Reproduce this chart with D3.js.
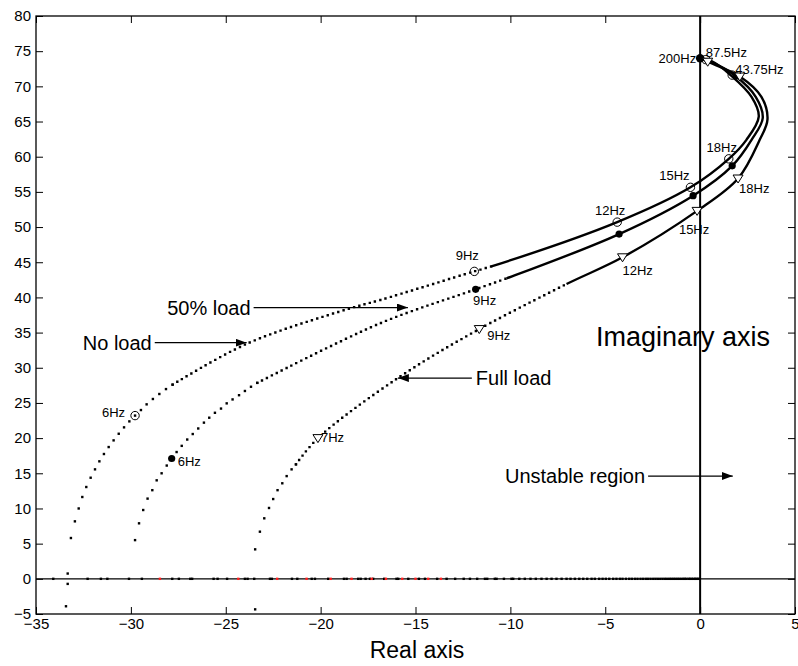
<!DOCTYPE html>
<html>
<head>
<meta charset="utf-8">
<script src="https://cdn.jsdelivr.net/npm/d3@7"></script>
<style>
body { margin:0; background:#fff; }
text { font-family: "Liberation Sans", Arial, Helvetica, sans-serif; fill:#000; }
</style>
</head>
<body>
<div id="mainchart"></div>
<script>
// Datos (eje real / eje imaginario)
// ===================

var xTicks = [-35, -30, -25, -20, -15, -10, -5, 0, 5];
var yTicks = [-5, 0, 5, 10, 15, 20, 25, 30, 35, 40, 45, 50, 55, 60, 65, 70, 75, 80];

// No load: puntos sueltos (baja frecuencia), tramo punteado, tramo continuo
var noLoadDots = [[-33.16,5.8],[-32.95,8.17],[-32.75,10.0],[-32.56,11.63],[-32.35,13.05],[-32.12,14.37],
	[-31.89,15.56],[-31.66,16.7],[-31.42,17.74],[-31.17,18.73],[-30.91,19.68],[-30.64,20.62],[-30.36,21.53],
	[-30.08,22.38],[-29.78,23.2],[-29.47,23.99],[-29.17,24.8],[-28.84,25.56],[-28.5,26.27],[-28.15,26.97],[-27.8,27.6]];
var noLoadDotted = [[-27.8,27.6],[-23.9,33.4],[-18.63,38.3],[-16.9,39.6],[-11.9,43.7],[-11.0,44.4]];
var noLoadSolid = [[-11.9,43.7],[-11.0,44.4],[-4.37,50.7],[-0.51,55.65],[1.51,59.7],[2.44,62.4],[3.09,65.7],
	[2.71,68.5],[1.65,71.5],[0.6,73.6],[0,74.0]];

// 50% load
var halfLoadDots = [[-29.78,5.5],[-29.57,7.89],[-29.35,9.78],[-29.12,11.4],[-28.87,12.6],[-28.64,14.0],[-28.38,15.0],
	[-28.11,16.1],[-27.85,17.1],[-27.59,18.02],[-27.32,18.9],[-27.03,19.8],[-26.74,20.58],[-26.45,21.37],[-26.15,22.2],
	[-25.87,22.9],[-25.57,23.6],[-25.25,24.2],[-24.95,24.94],[-24.64,25.5],[-24.3,26.1],[-23.99,26.7],[-23.67,27.3],[-23.34,27.85]];
var halfLoadDotted = [[-23.34,27.85],[-16.88,36.3],[-11.83,41.15],[-10.2,42.7]];
var halfLoadSolid = [[-11.83,41.15],[-10.2,42.7],[-4.27,49.0],[-0.37,54.46],[1.69,58.7],[2.71,62.4],[3.3,65.5],
	[2.93,68.5],[1.85,71.5],[0.5,73.6],[0,74.0]];

// Full load
var fullLoadDots = [[-23.45,4.19],[-23.2,6.7],[-22.97,8.6],[-22.72,10.07],[-22.5,11.34],[-22.27,12.6],[-22.02,13.58],
	[-21.79,14.6],[-21.53,15.56],[-21.3,16.27]];
var fullLoadDotted = [[-21.3,16.27],[-20.14,20.0],[-15.93,28.54],[-11.64,35.5],[-7.04,41.9]];
var fullLoadSolid = [[-11.64,35.5],[-7.04,41.9],[-4.09,45.7],[-0.16,52.3],[2.0,56.9],[3.14,62.4],[3.55,65.3],[3.23,68.5],
	[2.09,71.4],[0.4,73.5],[0,74.0]];

// Marcas de frecuencia [etiqueta, real, imag]
var noLoadMarks = [["6Hz",-29.78,23.2],["9Hz",-11.9,43.7],["12Hz",-4.37,50.7],["15Hz",-0.51,55.65],
	["18Hz",1.51,59.7],["43.75Hz",1.69,71.6],["",0.3,73.8]];
var halfLoadMarks = [["6Hz",-27.85,17.1],["9Hz",-11.83,41.15],["",-4.27,49.0],["",-0.37,54.46],
	["",1.69,58.7],["",1.9,71.5],["200Hz",0,74.0]];
var fullLoadMarks = [["7Hz",-20.14,20.0],["9Hz",-11.64,35.5],["12Hz",-4.09,45.7],["15Hz",-0.16,52.3],
	["18Hz",2.0,56.9],["",2.09,71.4],["87.5Hz",0.4,73.5]];

// Puntos sobre el eje real
var realAxisBlack = [-34.09,-32.28,-31.58,-31.24,-30.10,-29.42,-27.82,-27.47,-26.87,-26.77,-25.64,-25.43,-24.93,
	-23.99,-23.85,-23.50,-22.67,-22.57,-21.51,-21.23,-20.47,-20.30,-19.60,-18.77,-18.63,-18.02,-17.89,-17.63,-17.40,
	-17.23,-16.65,-16.00,-15.91,-15.38,-14.82,-14.50,-13.86,-13.36,-12.91,-12.46,-12.13,-11.75,-11.34,-11.22,-10.82,
	-10.73,-10.34,-9.94,-9.85,-9.53,-9.24,-8.94,-8.66,-8.36,-8.09,-7.83,-7.57,-7.30,-7.04,-6.83,-6.60,-6.37,-6.16,
	-5.95,-5.72,-5.55,-5.32,-5.14,-4.97,-4.79,-4.58,-4.41,-4.23,-4.09,-3.91,-3.74,-3.60,-3.44,-3.30,-3.14,-3.00,
	-2.86,-2.74,-2.61,-2.47,-2.35,-2.23,-2.10,-1.98,-1.86,-1.75,-1.63,-1.53,-1.42,-1.32,-1.21,-1.11,-1.00,-0.89,
	-0.81,-0.72,-0.61,-0.53,-0.44,-0.35,-0.26,-0.19,-0.10,-0.02];
var realAxisRed = [-28.47,-24.34,-22.29,-20.74,-19.47,-18.37,-17.31,-16.56,-15.70,-15.00,-14.33,-13.66];
var lowDots = [[-33.33,0.75],[-33.33,-0.72],[-33.42,-3.9],[-23.45,-4.34]];

// Anotaciones [texto, x texto, y, x punta flecha]
var annotations = [["No load",-28.9,33.56,-23.9],["50% load",-23.69,38.56,-15.4],
	["Full load",-11.82,28.54,-15.93],["Unstable region",-2.9,14.61,1.72]];


// VistaNyquist
// ===================
var VistaNyquist = {
	initialize: function(el) {
		self = this;
		this.el = el;
		this.width = 798;
		this.height = 666;
		this.margin = {top: 16, right: 3, bottom: 52, left: 36};

		this.x = d3.scaleLinear().domain([-35, 5]).range([this.margin.left, this.width - this.margin.right]);
		this.y = d3.scaleLinear().domain([-5, 80]).range([this.height - this.margin.bottom, this.margin.top]);
		this.render();
	},

	render: function() {
		var x = this.x, y = this.y, m = this.margin;
		var x0 = m.left, x1 = this.width - m.right, y0 = m.top, y1 = this.height - m.bottom;

		this.svg = d3.select(this.el).append("svg")
			.attr("width", this.width)
			.attr("height", this.height);
		var svg = this.svg;

		svg.append("defs").append("marker")
			.attr("id", "head")
			.attr("markerUnits", "userSpaceOnUse")
			.attr("markerWidth", 11).attr("markerHeight", 8)
			.attr("refX", 11).attr("refY", 4)
			.attr("orient", "auto")
			.append("path").attr("d", "M0,0L11,4L0,8z").attr("fill", "#000");

		// Ejes con ticks hacia adentro (estilo matlab)
		svg.append("g")
			.attr("transform", "translate(0," + y1 + ")")
			.call(d3.axisBottom(x).tickValues(xTicks).tickSizeInner(-7).tickSizeOuter(0).tickPadding(4).tickFormat(d3.format("d")))
			.call(self.styleAxis);
		svg.append("g")
			.attr("transform", "translate(" + x0 + ",0)")
			.call(d3.axisLeft(y).tickValues(yTicks).tickSizeInner(-7).tickSizeOuter(0).tickPadding(5).tickFormat(d3.format("d")))
			.call(self.styleAxis);
		svg.append("g")
			.attr("transform", "translate(0," + y0 + ")")
			.call(d3.axisTop(x).tickValues(xTicks).tickSizeInner(-7).tickSizeOuter(0).tickFormat(""))
			.call(self.styleAxis);
		svg.append("g")
			.attr("transform", "translate(" + x1 + ",0)")
			.call(d3.axisRight(y).tickValues(yTicks).tickSizeInner(-7).tickSizeOuter(0).tickFormat(""))
			.call(self.styleAxis);

		svg.append("rect")
			.attr("x", x0).attr("y", y0)
			.attr("width", x1 - x0).attr("height", y1 - y0)
			.attr("fill", "none").attr("stroke", "#000").attr("stroke-width", 1.3);

		// eje real (y=0) y eje imaginario (x=0)
		svg.append("line")
			.attr("x1", x0).attr("x2", x1).attr("y1", y(0)).attr("y2", y(0))
			.attr("stroke", "#000").attr("stroke-width", 1.2);
		svg.append("line")
			.attr("x1", x(0)).attr("x2", x(0)).attr("y1", y0).attr("y2", y1)
			.attr("stroke", "#000").attr("stroke-width", 2);

		// Puntos en el eje real
		var dot = 2.4;
		svg.append("g").selectAll("rect")
			.data(realAxisBlack.map(function(d) { return [d, 0, "#000"]; })
				.concat(realAxisRed.map(function(d) { return [d, 0, "#ff2020"]; }))
				.concat(lowDots.map(function(d) { return [d[0], d[1], "#000"]; })))
			.enter().append("rect")
				.attr("x", function(d) { return x(d[0]) - dot / 2; })
				.attr("y", function(d) { return y(d[1]) - dot / 2; })
				.attr("width", dot).attr("height", dot)
				.attr("fill", function(d) { return d[2]; });

		// Curvas: el tramo continuo lleva un punto previo solo para dar la tangente
		var line = d3.line()
			.x(function(d) { return x(d[0]); })
			.y(function(d) { return y(d[1]); })
			.curve(d3.curveCatmullRom);

		[[noLoadDots, noLoadDotted, noLoadSolid], [halfLoadDots, halfLoadDotted, halfLoadSolid],
		 [fullLoadDots, fullLoadDotted, fullLoadSolid]].forEach(function(c) {
			svg.append("g").selectAll("rect")
				.data(c[0])
				.enter().append("rect")
					.attr("x", function(d) { return x(d[0]) - dot / 2; })
					.attr("y", function(d) { return y(d[1]) - dot / 2; })
					.attr("width", dot).attr("height", dot)
					.attr("fill", "#000");
			svg.append("path")
				.attr("d", line(c[1]))
				.attr("fill", "none").attr("stroke", "#000")
				.attr("stroke-width", dot).attr("stroke-linecap", "square")
				.attr("stroke-dasharray", "0 5.5");
			var p = svg.append("path")
				.attr("d", line(c[2]))
				.attr("fill", "none").attr("stroke", "#000")
				.attr("stroke-width", 2.4).attr("stroke-linejoin", "round");
			// ocultar el primer tramo (solo sirve de tangente)
			var seg = line(c[2].slice(0, 3));
			var tmp = svg.append("path").attr("d", line(c[2].slice(0, 2))).attr("fill", "none");
			var skip = tmp.node().getTotalLength();
			tmp.remove();
			var total = p.node().getTotalLength();
			p.attr("stroke-dasharray", "0 " + skip + " " + total);
		});

		// Marcadores
		svg.append("g").selectAll("circle")
			.data(noLoadMarks).enter().append("circle")
				.attr("cx", function(d) { return x(d[1]); })
				.attr("cy", function(d) { return y(d[2]); })
				.attr("r", 4.2)
				.attr("fill", "none").attr("stroke", "#000").attr("stroke-width", 1);
		svg.append("g").selectAll("circle")
			.data(halfLoadMarks).enter().append("circle")
				.attr("cx", function(d) { return x(d[1]); })
				.attr("cy", function(d) { return y(d[2]); })
				.attr("r", function(d) { return d[0] == "200Hz" ? 4.2 : 3.6; })
				.attr("fill", "#000");
		svg.append("g").selectAll("path")
			.data(fullLoadMarks).enter().append("path")
				.attr("transform", function(d) { return "translate(" + x(d[1]) + "," + y(d[2]) + ")"; })
				.attr("d", "M-5,-3.5L5,-3.5L0,4.5z")
				.attr("fill", "#fff").attr("stroke", "#000").attr("stroke-width", 1);

		// Etiquetas de frecuencia: desplazamiento en pixeles [dx, dy, anchor]
		var offsets = {
			"no6Hz": [-10, -3, "end"], "no9Hz": [-7, -16, "middle"], "no12Hz": [-7, -12, "middle"],
			"no15Hz": [-16, -12, "middle"], "no18Hz": [-7, -11, "middle"], "no43.75Hz": [3, -6, "start"],
			"half6Hz": [6, 3, "start"], "half9Hz": [9, 11, "middle"], "half200Hz": [-4, 0, "end"],
			"full7Hz": [3, -1, "start"], "full9Hz": [8, 6, "start"], "full12Hz": [0, 13, "start"],
			"full15Hz": [-3, 19, "middle"], "full18Hz": [1, 10, "start"], "full87.5Hz": [-2, -9, "start"]
		};
		[["no", noLoadMarks], ["half", halfLoadMarks], ["full", fullLoadMarks]].forEach(function(s) {
			svg.append("g").selectAll("text")
				.data(s[1].filter(function(d) { return d[0] != ""; }))
				.enter().append("text")
					.attr("x", function(d) { return x(d[1]) + offsets[s[0] + d[0]][0]; })
					.attr("y", function(d) { return y(d[2]) + offsets[s[0] + d[0]][1]; })
					.attr("dy", "0.35em")
					.attr("text-anchor", function(d) { return offsets[s[0] + d[0]][2]; })
					.style("font-size", "13px")
					.text(function(d) { return d[0]; });
		});

		// Anotaciones con flecha
		annotations.forEach(function(a) {
			var full = a[0] == "Full load";
			svg.append("text")
				.attr("x", x(a[1])).attr("y", y(a[2]))
				.attr("dy", "0.35em")
				.attr("text-anchor", full ? "start" : "end")
				.style("font-size", "20px")
				.text(a[0]);
			var startX = full ? x(a[1]) - 4 : x(a[1]) + 3;
			svg.append("line")
				.attr("x1", startX).attr("y1", y(a[2]))
				.attr("x2", x(a[3])).attr("y2", y(a[2]))
				.attr("stroke", "#000").attr("stroke-width", 1.3)
				.attr("marker-end", "url(#head)");
		});

		svg.append("text")
			.attr("x", x(-5.49)).attr("y", y(34.37))
			.attr("dy", "0.35em")
			.style("font-size", "27px")
			.text("Imaginary axis");

		svg.append("text")
			.attr("x", 417).attr("y", 658)
			.attr("text-anchor", "middle")
			.style("font-size", "23px")
			.text("Real axis");
	},

	styleAxis: function(g) {
		g.select(".domain").remove();
		g.selectAll(".tick line").attr("stroke", "#000").attr("stroke-width", 1);
		g.selectAll(".tick text").style("font-size", "15px")
			.style("font-family", "'Liberation Sans', Arial, Helvetica, sans-serif").attr("fill", "#000");
	}
};

VistaNyquist.initialize("#mainchart");
</script>
</body>
</html>
